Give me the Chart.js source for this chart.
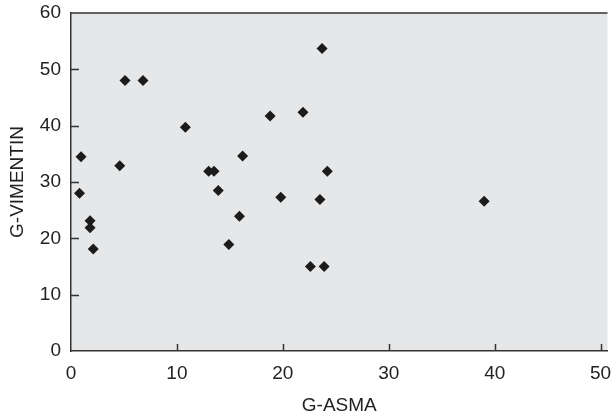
<!doctype html>
<html>
<head>
	<title>G-ASMA vs G-VIMENTIN</title>
	<script src="https://cdn.jsdelivr.net/npm/chart.js@4"></script>
	<style>
	html, body { margin: 0; padding: 0; background: #fff; }
	#wrap { width: 613px; height: 417px; }
	</style>
</head>
<body>
	<div id="wrap"><canvas id="canvas"></canvas></div>
	<script>
		// x = G-ASMA, y = G-VIMENTIN, one entry per sample
		var asma = [0.95, 0.8, 1.8, 1.8, 2.1, 4.6, 5.1, 6.8, 10.8, 23.7, 18.8, 21.9,
			16.2, 13.0, 13.5, 24.2, 13.9, 19.8, 23.5, 15.9, 14.9, 22.6, 23.9, 39.0];
		var vimentin = [34.5, 28.0, 23.1, 21.9, 18.1, 32.9, 48.0, 48.0, 39.7, 53.7, 41.7, 42.4,
			34.6, 31.9, 31.9, 31.9, 28.5, 27.3, 26.9, 23.9, 18.9, 15.0, 15.0, 26.6];
		var xTicks = [0, 10, 20, 30, 40, 50];
		var yTicks = [0, 10, 20, 30, 40, 50, 60];

		var axisColor = '#333333';
		var font = { family: 'Arial, "Liberation Sans", sans-serif', size: 19, lineHeight: 1 };

		// grey plot area, top frame line and inward tick marks
		var framePlugin = {
			id: 'frame',
			beforeDraw: function(chart) {
				var a = chart.chartArea, ctx = chart.ctx;
				ctx.save();
				ctx.fillStyle = '#e6e7e8';
				ctx.fillRect(a.left, a.top, a.right - a.left, a.bottom - a.top);
				ctx.restore();
			},
			afterDraw: function(chart) {
				var a = chart.chartArea, ctx = chart.ctx;
				var xs = chart.scales.x, ys = chart.scales.y;
				ctx.save();
				ctx.strokeStyle = axisColor;
				ctx.lineWidth = 1.5;
				ctx.beginPath();
				ctx.moveTo(a.left, a.top);
				ctx.lineTo(a.right, a.top);
				xTicks.slice(1).forEach(function(v) {
					var px = Math.round(xs.getPixelForValue(v)) + 0.5;
					ctx.moveTo(px, a.bottom);
					ctx.lineTo(px, a.bottom - 7);
				});
				yTicks.slice(1, -1).forEach(function(v) {
					var py = Math.round(ys.getPixelForValue(v)) + 0.5;
					ctx.moveTo(a.left, py);
					ctx.lineTo(a.left + 8, py);
				});
				ctx.stroke();
				ctx.restore();
			}
		};

		var points = asma.map(function(x, i) { return { x: x, y: vimentin[i] }; });

		new Chart(document.getElementById('canvas'), {
			type: 'scatter',
			data: {
				datasets: [{
					data: points,
					pointStyle: 'rectRot',
					pointRadius: 5.5,
					pointHoverRadius: 5.5,
					backgroundColor: '#1b1b1b',
					borderColor: '#1b1b1b',
					borderWidth: 0
				}]
			},
			options: {
				responsive: true,
				maintainAspectRatio: false,
				animation: false,
				events: [],
				layout: { padding: { top: 13, left: 0, right: 0, bottom: 0 } },
				plugins: { legend: { display: false }, tooltip: { enabled: false } },
				scales: {
					x: {
						type: 'linear',
						min: 0,
						max: 50.65,
						grid: { display: false, drawTicks: false },
						border: { display: true, color: axisColor, width: 1.5 },
						ticks: { stepSize: 10, padding: 13, color: '#222', font: font },
						afterBuildTicks: function(s) {
							s.ticks = xTicks.map(function(v) { return { value: v }; });
						},
						afterFit: function(s) {
							s.height = 66;
							s.paddingLeft = 0;
							s.paddingRight = 0;
						},
						title: { display: true, text: 'G-ASMA', color: '#222', font: font, padding: { top: 0, bottom: 2 } }
					},
					y: {
						type: 'linear',
						min: 0,
						max: 60,
						grid: { display: false, drawTicks: false },
						border: { display: true, color: axisColor, width: 1.5 },
						ticks: { stepSize: 10, padding: 10, color: '#222', font: font },
						afterBuildTicks: function(s) {
							s.ticks = yTicks.map(function(v) { return { value: v }; });
						},
						afterFit: function(s) {
							s.width = 71;
							s.paddingTop = 0;
							s.paddingBottom = 0;
						},
						title: { display: true, text: 'G-VIMENTIN', color: '#222', font: font, padding: { top: 8, bottom: 0 } }
					}
				}
			},
			plugins: [framePlugin]
		});
	</script>
</body>
</html>
